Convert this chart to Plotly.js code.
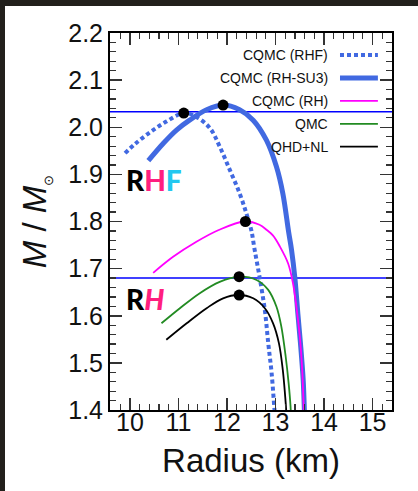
<!DOCTYPE html>
<html><head><meta charset="utf-8">
<script src="https://cdn.plot.ly/plotly-3.0.1.min.js"></script>
<style>
html,body{margin:0;padding:0;background:#22201c;width:418px;height:491px;overflow:hidden}
#chart{position:absolute;left:5px;top:6px;width:413px;height:485px;background:#fff}
</style></head><body><div id="chart"></div>
<script>
// ---- data ----
const seriesNames = ['CQMC (RHF)', 'CQMC (RH-SU3)', 'CQMC (RH)', 'QMC', 'QHD+NL'];

const radiusRHF = [9.90, 10.10, 10.41, 10.75, 11.11, 11.37, 11.65, 11.85, 12.06, 12.26, 12.40, 12.50, 12.57, 12.67, 12.78, 12.85, 12.92, 12.98, 13.00];
const massRHF   = [1.945, 1.964, 1.989, 2.012, 2.030, 2.022, 1.998, 1.959, 1.909, 1.860, 1.817, 1.782, 1.740, 1.683, 1.612, 1.542, 1.478, 1.400, 1.380];

const radiusSU3 = [10.38, 10.69, 10.96, 11.23, 11.58, 11.92, 12.26, 12.54, 12.81, 13.02, 13.15, 13.27, 13.33, 13.40, 13.46, 13.52, 13.57, 13.59, 13.60];
const massSU3   = [1.929, 1.966, 1.994, 2.015, 2.037, 2.047, 2.037, 2.015, 1.973, 1.916, 1.860, 1.778, 1.740, 1.679, 1.605, 1.534, 1.464, 1.414, 1.380];

const radiusRH = [10.48, 10.89, 11.37, 11.83, 12.37, 12.67, 12.82, 12.95, 13.09, 13.26, 13.36, 13.43, 13.50, 13.55, 13.58, 13.59];
const massRH   = [1.691, 1.725, 1.757, 1.782, 1.800, 1.793, 1.782, 1.770, 1.747, 1.711, 1.669, 1.619, 1.556, 1.485, 1.407, 1.380];

const radiusQMC = [10.65, 11.03, 11.44, 11.85, 12.25, 12.61, 12.85, 13.02, 13.12, 13.21, 13.27, 13.31, 13.32];
const massQMC   = [1.584, 1.616, 1.648, 1.672, 1.683, 1.676, 1.655, 1.619, 1.577, 1.513, 1.457, 1.407, 1.380];

const radiusQHD = [10.75, 11.17, 11.58, 11.92, 12.23, 12.54, 12.78, 12.95, 13.07, 13.15, 13.20, 13.22, 13.23];
const massQHD   = [1.549, 1.584, 1.616, 1.637, 1.644, 1.637, 1.616, 1.584, 1.542, 1.485, 1.428, 1.400, 1.380];

const maxRadius = [11.11, 11.92, 12.38, 12.25, 12.25];
const maxMass   = [2.030, 2.047, 1.800, 1.683, 1.644];

const refMass = [2.033, 1.68];

const xTickVals = [10, 11, 12, 13, 14, 15];
const yTickVals = [1.4, 1.5, 1.6, 1.7, 1.8, 1.9, 2.0, 2.1, 2.2];

// ---- styling ----
const BLUE = '#4169e1';
const lineStyles = [
  {color: BLUE, width: 4, dash: '4px,3px'},
  {color: BLUE, width: 5, dash: 'solid'},
  {color: '#ff00ff', width: 1.8, dash: 'solid'},
  {color: '#228b22', width: 1.8, dash: 'solid'},
  {color: '#000000', width: 1.8, dash: 'solid'}
];
const seriesX = [radiusRHF, radiusSU3, radiusRH, radiusQMC, radiusQHD];
const seriesY = [massRHF, massSU3, massRH, massQMC, massQHD];

const traces = seriesNames.map((name, i) => ({
  type: 'scatter', mode: 'lines', name: name,
  x: seriesX[i], y: seriesY[i],
  line: Object.assign({shape: 'spline', smoothing: 1}, lineStyles[i]),
  showlegend: false, hoverinfo: 'skip'
}));
traces.push({
  type: 'scatter', mode: 'markers', x: maxRadius, y: maxMass,
  marker: {color: '#000', size: 11}, showlegend: false, hoverinfo: 'skip'
});

const shapes = refMass.map(m => ({
  type: 'line', xref: 'paper', x0: 0, x1: 1, yref: 'y', y0: m, y1: m,
  line: {color: '#0000ff', width: 1.5}, layer: 'below'
}));

const annotations = [];
const legTextX = 0.78, legLineX0 = 0.8156, legLineX1 = 0.950, legY0 = 0.9416, legDy = 0.0608;
seriesNames.forEach((name, i) => {
  const yy = legY0 - i * legDy;
  annotations.push({xref: 'paper', yref: 'paper', x: legTextX, y: yy, xanchor: 'right', yanchor: 'middle',
    text: name, showarrow: false, font: {family: 'Liberation Sans, Arial, sans-serif', size: 14, color: '#111'}});
  shapes.push({type: 'line', xref: 'paper', yref: 'paper', x0: legLineX0, x1: legLineX1, y0: yy, y1: yy,
    line: lineStyles[i]});
});

const labelFont = {family: 'Lato, Open Sans, sans-serif', size: 28, color: '#000', weight: 900};
annotations.push({xref: 'x', yref: 'y', x: 9.88, y: 1.888, xanchor: 'left', yanchor: 'middle', showarrow: false,
  text: 'R<span style="color:#ff1f7f">H</span><span style="color:#22c8f0">F</span>', font: labelFont});
annotations.push({xref: 'x', yref: 'y', x: 9.88, y: 1.636, xanchor: 'left', yanchor: 'middle', showarrow: false,
  text: 'R<span style="color:#ff1f7f"><i>H</i></span>', font: labelFont});

const axisCommon = {
  showline: true, linewidth: 2, linecolor: '#000', mirror: 'allticks',
  ticks: 'inside', ticklen: 12, tickwidth: 1.5, tickcolor: '#333',
  showgrid: false, zeroline: false,
  tickfont: {family: 'Liberation Sans, Arial, sans-serif', size: 25, color: '#111'}
};

const layout = {
  width: 413, height: 485,
  margin: {l: 105, r: 26, t: 27, b: 81},
  paper_bgcolor: '#fff', plot_bgcolor: '#fff',
  xaxis: Object.assign({}, axisCommon, {
    range: [9.59, 15.40], tickvals: xTickVals, ticklabelstandoff: -11,
    minor: {dtick: 0.2, tick0: 0, ticks: 'inside', ticklen: 6, tickwidth: 1.2, tickcolor: '#333'},
    title: {text: 'Radius (km)', font: {family: 'Liberation Sans, Arial, sans-serif', size: 33, color: '#111'}, standoff: 14}
  }),
  yaxis: Object.assign({}, axisCommon, {
    range: [1.4, 2.2], tickvals: yTickVals, tickformat: '.1f',
    minor: {dtick: 0.02, tick0: 0, ticks: 'inside', ticklen: 6, tickwidth: 1.2, tickcolor: '#333'},
    title: {text: '<i>M</i> / <i>M</i><sub><span style="font-size:13px">⊙</span></sub>', font: {family: 'Liberation Sans, Arial, sans-serif', size: 33, color: '#111'}, standoff: 12}
  }),
  shapes: shapes, annotations: annotations
};

Plotly.newPlot('chart', traces, layout, {staticPlot: true, displayModeBar: false});
</script></body></html>
